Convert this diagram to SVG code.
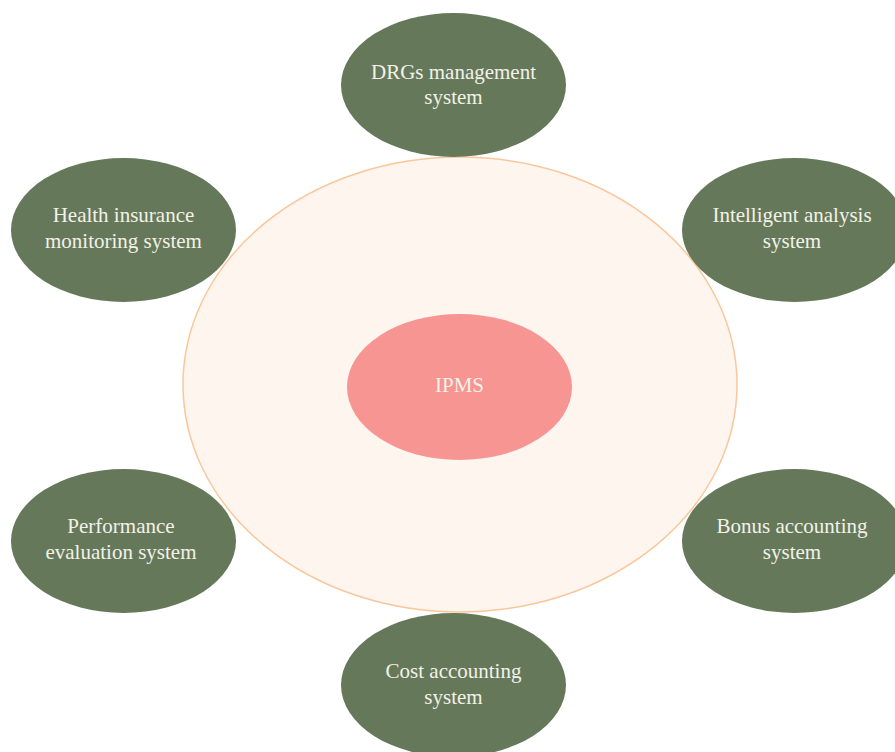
<svg xmlns="http://www.w3.org/2000/svg" width="895" height="752" viewBox="0 0 895 752">
  <style>
    .sys { fill: #65795A; }
    .lbl { font-family: "Liberation Serif", "Times New Roman", serif; font-size: 21px; fill: #F3F1E8; text-anchor: middle; }
  </style>
  <rect width="895" height="752" fill="#FFFFFF"/>

  <!-- outer platform ring -->
  <g id="platform">
    <ellipse cx="460" cy="384.5" rx="277" ry="227.5" fill="#FEF5EF" stroke="#F9C79B" stroke-width="1.5"/>
  </g>

  <g id="connectors"></g>

  <!-- core -->
  <g id="ipms">
    <ellipse cx="459.5" cy="387" rx="112.5" ry="73" fill="#F79592"/>
    <text class="lbl" x="459.5" y="392">IPMS</text>
  </g>

  <!-- surrounding subsystems -->
  <g id="drgs">
    <ellipse class="sys" cx="453.5" cy="85" rx="112.5" ry="72"/>
    <text class="lbl" x="453.5" y="79">DRGs management</text>
    <text class="lbl" x="453.5" y="104">system</text>
  </g>

  <g id="health">
    <ellipse class="sys" cx="123.5" cy="230" rx="112.5" ry="72"/>
    <text class="lbl" x="123.5" y="222">Health insurance</text>
    <text class="lbl" x="123.5" y="248">monitoring system</text>
  </g>

  <g id="intelligent">
    <ellipse class="sys" cx="794.5" cy="230" rx="112.5" ry="72"/>
    <text class="lbl" x="792" y="222">Intelligent analysis</text>
    <text class="lbl" x="792" y="248">system</text>
  </g>

  <g id="performance">
    <ellipse class="sys" cx="123.5" cy="541" rx="112.5" ry="72"/>
    <text class="lbl" x="121" y="533">Performance</text>
    <text class="lbl" x="121" y="559">evaluation system</text>
  </g>

  <g id="bonus">
    <ellipse class="sys" cx="794.5" cy="541" rx="112.5" ry="72"/>
    <text class="lbl" x="792" y="533">Bonus accounting</text>
    <text class="lbl" x="792" y="559">system</text>
  </g>

  <g id="cost">
    <ellipse class="sys" cx="453.5" cy="685" rx="112.5" ry="72"/>
    <text class="lbl" x="453.5" y="678">Cost accounting</text>
    <text class="lbl" x="453.5" y="704">system</text>
  </g>
</svg>
